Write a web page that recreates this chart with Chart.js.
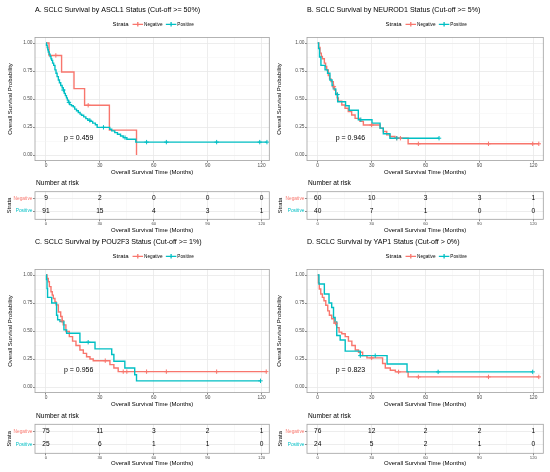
<!DOCTYPE html>
<html>
<head>
<meta charset="utf-8">
<script src="https://cdn.jsdelivr.net/npm/chart.js@4.4.1/dist/chart.umd.min.js"></script>
<style>
  body { margin: 0; background: #fff; width: 550px; height: 472px; position: relative; overflow: hidden; }
  canvas { position: absolute; }
</style>
</head>
<body>
<script>
var RED = '#F8766D';
var CYAN = '#00BFC4';
var FONT = "'Liberation Sans', Arial, Helvetica, sans-serif";
var BORDER = '#a0a0a0';
var GRID_MAJOR = '#e8e8e8';
var GRID_MINOR = '#f3f3f3';

var titles = [
    'A. SCLC Survival by ASCL1 Status (Cut-off >= 50%)',
    'B. SCLC Survival by NEUROD1 Status (Cut-off >= 5%)',
    'C. SCLC Survival by POU2F3 Status (Cut-off >= 1%)',
    'D. SCLC Survival by YAP1 Status (Cut-off > 0%)'
];
var pValues = ['0.459', '0.946', '0.956', '0.823'];
var strata = ['Negative', 'Positive'];
var xGrid = [0, 15, 30, 45, 60, 75, 90, 105, 120];
var yGrid = [0, 0.125, 0.25, 0.375, 0.5, 0.625, 0.75, 0.875, 1];
var riskTimes = [0, 30, 60, 90, 120];

// A. ASCL1
var aNegTime = [0, 1.7, 8.7, 15.6, 21.5, 35.3, 50.4];
var aNegSurv = [1, 0.889, 0.741, 0.593, 0.444, 0.222, 0];
var aNegCens = [5.5, 23.5];
var aPosTime = [0, 0.3, 0.7, 1.0, 1.3, 1.8, 2.3, 2.8, 3.2, 3.7, 4.3, 5.0, 5.6, 6.2, 6.9, 7.5, 8.2, 9.0, 9.6, 10.2, 10.8, 11.4, 11.9, 12.5, 13.2, 14.2, 15.2, 16.0, 17.0, 18.0, 19.0, 19.8, 21.0, 22.2, 23.3, 24.5, 26.0, 27.5, 28.5, 35.5, 36.6, 38.3, 39.8, 41.5, 43.0, 45.0, 50.0, 123];
var aPosSurv = [1, 0.98, 0.96, 0.94, 0.92, 0.90, 0.88, 0.86, 0.845, 0.82, 0.80, 0.76, 0.73, 0.70, 0.67, 0.645, 0.62, 0.60, 0.58, 0.55, 0.53, 0.51, 0.49, 0.47, 0.45, 0.44, 0.43, 0.41, 0.395, 0.38, 0.365, 0.355, 0.34, 0.325, 0.31, 0.30, 0.285, 0.27, 0.247, 0.23, 0.215, 0.20, 0.185, 0.17, 0.155, 0.14, 0.115, 0.115];
var aPosCens = [9.7, 12.8, 24.4, 32, 44, 56, 67, 95, 119, 123];
var aRiskNeg = [9, 2, 0, 0, 0];
var aRiskPos = [91, 15, 4, 3, 1];

// B. NEUROD1
var bNegTime = [0, 0.6, 1.3, 2.0, 2.6, 3.7, 4.4, 5.0, 5.9, 6.6, 7.4, 8.7, 9.3, 10.0, 10.8, 11.5, 13.4, 15.2, 17.0, 18.9, 20.8, 23.5, 25.4, 34.7, 36.5, 38.4, 40.2, 43.0, 50.3, 123];
var bNegSurv = [1, 0.96, 0.91, 0.88, 0.86, 0.82, 0.79, 0.76, 0.71, 0.68, 0.655, 0.61, 0.58, 0.55, 0.51, 0.48, 0.446, 0.417, 0.387, 0.357, 0.327, 0.30, 0.268, 0.24, 0.21, 0.18, 0.165, 0.15, 0.10, 0.10];
var bNegCens = [9, 30, 44, 46, 56, 95, 119.6, 123];
var bPosTime = [0, 0.5, 1.0, 1.8, 4.1, 5.5, 6.8, 8.0, 8.7, 10.0, 11.1, 15.5, 17.5, 22.6, 30.2, 34.7, 36.5, 40.2, 67.5];
var bPosSurv = [1, 0.95, 0.875, 0.80, 0.76, 0.73, 0.67, 0.62, 0.59, 0.54, 0.476, 0.44, 0.40, 0.315, 0.285, 0.24, 0.19, 0.15, 0.15];
var bPosCens = [11, 24, 44, 67.5];
var bRiskNeg = [60, 10, 3, 3, 1];
var bRiskPos = [40, 7, 1, 0, 0];

// C. POU2F3
var cNegTime = [0, 0.6, 1.3, 1.9, 2.8, 3.5, 4.1, 5.0, 5.6, 6.9, 8.2, 9.0, 9.6, 11.1, 13.0, 14.8, 16.7, 18.9, 20.8, 22.6, 24.5, 26.3, 35.6, 37.8, 40.2, 122.6];
var cNegSurv = [1, 0.97, 0.94, 0.896, 0.85, 0.82, 0.79, 0.76, 0.733, 0.67, 0.63, 0.59, 0.555, 0.495, 0.45, 0.41, 0.37, 0.33, 0.30, 0.27, 0.25, 0.235, 0.20, 0.17, 0.137, 0.137];
var cNegCens = [9, 33, 43, 45, 56, 67, 95, 122.6];
var cPosTime = [0, 0.3, 0.6, 0.9, 3.2, 5.9, 6.5, 7.8, 10.0, 11.5, 18.9, 27.3, 36.6, 37.8, 43.9, 49.4, 50.4, 119.4];
var cPosSurv = [1, 0.96, 0.88, 0.80, 0.75, 0.64, 0.60, 0.585, 0.51, 0.48, 0.40, 0.34, 0.29, 0.23, 0.17, 0.11, 0.055, 0.055];
var cPosCens = [23.5, 119.4];
var cRiskNeg = [75, 11, 3, 2, 1];
var cRiskPos = [25, 6, 1, 1, 0];

// D. YAP1
var dNegTime = [0, 0.4, 0.9, 1.7, 2.6, 3.5, 4.5, 5.6, 6.5, 7.8, 9.1, 10.6, 11.9, 13.4, 15.3, 17.1, 19.0, 20.9, 22.7, 25.0, 27.4, 36.1, 37.6, 40.4, 43.2, 50.3, 123];
var dNegSurv = [1, 0.93, 0.875, 0.83, 0.80, 0.77, 0.73, 0.68, 0.64, 0.61, 0.57, 0.53, 0.49, 0.475, 0.45, 0.41, 0.37, 0.33, 0.31, 0.28, 0.26, 0.21, 0.17, 0.15, 0.135, 0.09, 0.09];
var dNegCens = [10, 30, 45, 56, 95, 123];
var dPosTime = [0, 0.7, 3.7, 6.3, 7.8, 8.8, 9.7, 10.6, 12.5, 15.3, 23.7, 38.6, 49.7, 119.6];
var dPosSurv = [1, 0.92, 0.83, 0.75, 0.71, 0.62, 0.58, 0.46, 0.42, 0.32, 0.28, 0.205, 0.135, 0.135];
var dPosCens = [23.7, 32, 67, 119.6];
var dRiskNeg = [76, 12, 2, 2, 1];
var dRiskPos = [24, 5, 2, 1, 0];

var pvalX = 18.2, pvalY = 0.148;

var panels = [
    {col: 0, row: 0, neg: [aNegTime, aNegSurv, aNegCens], pos: [aPosTime, aPosSurv, aPosCens], riskNeg: aRiskNeg, riskPos: aRiskPos},
    {col: 1, row: 0, neg: [bNegTime, bNegSurv, bNegCens], pos: [bPosTime, bPosSurv, bPosCens], riskNeg: bRiskNeg, riskPos: bRiskPos},
    {col: 0, row: 1, neg: [cNegTime, cNegSurv, cNegCens], pos: [cPosTime, cPosSurv, cPosCens], riskNeg: cRiskNeg, riskPos: cRiskPos},
    {col: 1, row: 1, neg: [dNegTime, dNegSurv, dNegCens], pos: [dPosTime, dPosSurv, dPosCens], riskNeg: dRiskNeg, riskPos: dRiskPos}
];

var colGeom = [
    {left: 0, yw: 35, padR: 5.7, xMin: -6.1, xMax: 124.3, kmTitlePad: 6.4, strataPad: 5.8},
    {left: 275, yw: 32, padR: 6.7, xMin: -5.95, xMax: 125.5, kmTitlePad: 0.6, strataPad: 2.3}
];
var rowGeom = [
    {top: 0, riskTop: 15.7, riskBottom: 43.3, riskH: 58, riskTitlePad: 0.4},
    {top: 232, riskTop: 16.3, riskBottom: 45.3, riskH: 62, riskTitlePad: 2.7}
];
var KM_H = 178, KM_TOP = 37.4, KM_BOTTOM = 160.6, RISK_OFFSET = 176;

function makeCanvas(left, top, w, h) {
    var c = document.createElement('canvas');
    c.width = w;
    c.height = h;
    c.style.left = left + 'px';
    c.style.top = top + 'px';
    c.style.width = w + 'px';
    c.style.height = h + 'px';
    document.body.appendChild(c);
    return c;
}

function survAt(times, surv, t) {
    var s = surv[0];
    for (var i = 0; i < times.length; i++) {
        if (times[i] <= t) { s = surv[i]; }
    }
    return s;
}

function curvePoints(times, surv) {
    return times.map(function(t, i) { return {x: t, y: surv[i]}; });
}

function censorPoints(cens, times, surv) {
    return cens.map(function(t) { return {x: t, y: survAt(times, surv, t)}; });
}

function isMajorX(v) { return v % 30 === 0; }
function isMajorY(v) { return Math.abs(v * 4 - Math.round(v * 4)) < 1e-9; }

function xScale(g, tickSize, height, titlePad) {
    return {
        type: 'linear',
        min: g.xMin,
        max: g.xMax,
        afterBuildTicks: function(s) { s.ticks = xGrid.map(function(v) { return {value: v}; }); },
        afterFit: function(s) { s.height = height; },
        border: {display: false},
        grid: {
            color: function(c) { return c.tick && isMajorX(c.tick.value) ? GRID_MAJOR : GRID_MINOR; },
            lineWidth: function(c) { return c.tick && isMajorX(c.tick.value) ? 0.8 : 0.5; },
            tickColor: function(c) { return c.tick && isMajorX(c.tick.value) ? '#555' : 'rgba(0,0,0,0)'; },
            tickLength: 2,
            tickWidth: 0.7
        },
        ticks: {
            autoSkip: false,
            maxRotation: 0,
            padding: 0,
            color: '#4d4d4d',
            font: {family: FONT, size: tickSize},
            callback: function(v) { return isMajorX(v) ? String(v) : ''; }
        },
        title: {
            display: true,
            text: 'Overall Survival Time (Months)',
            color: '#000',
            font: {family: FONT, size: 6},
            padding: {top: 0, bottom: titlePad}
        }
    };
}

var kmDeco = {
    id: 'kmDeco',
    afterDatasetsDraw: function(chart, args, opts) {
        var ctx = chart.ctx, a = chart.chartArea;
        ctx.save();
        ctx.strokeStyle = BORDER;
        ctx.lineWidth = 0.8;
        ctx.strokeRect(a.left, a.top, a.right - a.left, a.bottom - a.top);

        ctx.fillStyle = '#000';
        ctx.textBaseline = 'middle';
        ctx.textAlign = 'center';
        ctx.font = '7px ' + FONT;
        ctx.fillText('p = ' + opts.p, chart.scales.x.getPixelForValue(pvalX), chart.scales.y.getPixelForValue(pvalY));

        ctx.textAlign = 'left';
        ctx.font = '7.1px ' + FONT;
        ctx.fillText(opts.title, a.left, 10);

        // legend: "Strata" + keys
        ctx.font = '6px ' + FONT;
        var wS = ctx.measureText('Strata').width;
        ctx.font = '4.7px ' + FONT;
        var wN = ctx.measureText(strata[0]).width, wP = ctx.measureText(strata[1]).width;
        var keyW = 10.5;
        var total = wS + 4 + keyW + 1 + wN + 3.3 + keyW + 1 + wP;
        var x = (a.left + a.right) / 2 + 1 - total / 2, y = 24.3;
        ctx.font = '6px ' + FONT;
        ctx.fillText('Strata', x, y);
        x += wS + 4;
        [RED, CYAN].forEach(function(col, i) {
            ctx.strokeStyle = col;
            ctx.lineWidth = 1.3;
            ctx.beginPath();
            ctx.moveTo(x, y); ctx.lineTo(x + keyW, y);
            ctx.moveTo(x + keyW / 2, y - 2.2); ctx.lineTo(x + keyW / 2, y + 2.2);
            ctx.stroke();
            x += keyW + 1;
            ctx.font = '4.7px ' + FONT;
            ctx.fillStyle = '#000';
            ctx.fillText(strata[i], x, y);
            x += (i === 0 ? wN : wP) + 3.3;
        });
        ctx.restore();
    }
};

var riskDeco = {
    id: 'riskDeco',
    afterDatasetsDraw: function(chart, args, opts) {
        var ctx = chart.ctx, a = chart.chartArea;
        ctx.save();
        ctx.strokeStyle = BORDER;
        ctx.lineWidth = 0.8;
        ctx.strokeRect(a.left, a.top, a.right - a.left, a.bottom - a.top);

        ctx.fillStyle = '#000';
        ctx.textAlign = 'center';
        ctx.textBaseline = 'middle';
        ctx.font = '6.6px ' + FONT;
        chart.data.datasets.forEach(function(ds, di) {
            chart.getDatasetMeta(di).data.forEach(function(pt, i) {
                ctx.fillText(String(ds.data[i].n), pt.x, pt.y);
            });
        });

        ctx.textAlign = 'left';
        ctx.font = '6.6px ' + FONT;
        ctx.fillText('Number at risk', a.left + 1, a.top - 8.3);
        ctx.restore();
    }
};

function kmChart(p, idx) {
    var g = colGeom[p.col], r = rowGeom[p.row];
    var canvas = makeCanvas(g.left, r.top, 275, KM_H);
    var neg = p.neg, pos = p.pos;
    new Chart(canvas, {
        type: 'scatter',
        data: {
            datasets: [
                {data: censorPoints(pos[2], pos[0], pos[1]), pointStyle: 'cross', pointRadius: 2.2, pointBorderWidth: 1, pointBorderColor: CYAN, pointBackgroundColor: CYAN, showLine: false},
                {data: censorPoints(neg[2], neg[0], neg[1]), pointStyle: 'cross', pointRadius: 2.2, pointBorderWidth: 1, pointBorderColor: RED, pointBackgroundColor: RED, showLine: false},
                {data: curvePoints(pos[0], pos[1]), showLine: true, stepped: true, borderColor: CYAN, borderWidth: 1.4, pointRadius: 0},
                {data: curvePoints(neg[0], neg[1]), showLine: true, stepped: true, borderColor: RED, borderWidth: 1.4, pointRadius: 0}
            ]
        },
        options: {
            responsive: false,
            animation: false,
            events: [],
            layout: {padding: {left: 0, right: g.padR, top: KM_TOP, bottom: 0}},
            plugins: {
                legend: {display: false},
                tooltip: {enabled: false},
                kmDeco: {title: titles[idx], p: pValues[idx]}
            },
            scales: {
                x: xScale(g, 4.8, KM_H - KM_BOTTOM, 2.4),
                y: {
                    type: 'linear',
                    min: -0.05,
                    max: 1.05,
                    afterBuildTicks: function(s) { s.ticks = yGrid.map(function(v) { return {value: v}; }); },
                    afterFit: function(s) { s.width = g.yw; },
                    border: {display: false},
                    grid: {
                        color: function(c) { return c.tick && isMajorY(c.tick.value) ? GRID_MAJOR : GRID_MINOR; },
                        lineWidth: function(c) { return c.tick && isMajorY(c.tick.value) ? 0.8 : 0.5; },
                        tickColor: function(c) { return c.tick && isMajorY(c.tick.value) ? '#555' : 'rgba(0,0,0,0)'; },
                        tickLength: 2,
                        tickWidth: 0.7
                    },
                    ticks: {
                        autoSkip: false,
                        padding: 0.5,
                        color: '#4d4d4d',
                        font: {family: FONT, size: 4.8},
                        callback: function(v) { return isMajorY(v) ? v.toFixed(2) : ''; }
                    },
                    title: {
                        display: true,
                        text: 'Overall Survival Probability',
                        color: '#000',
                        font: {family: FONT, size: 6},
                        padding: {top: g.kmTitlePad, bottom: 0}
                    }
                }
            }
        },
        plugins: [kmDeco]
    });
}

function riskChart(p) {
    var g = colGeom[p.col], r = rowGeom[p.row];
    var canvas = makeCanvas(g.left, r.top + RISK_OFFSET, 275, r.riskH);
    new Chart(canvas, {
        type: 'scatter',
        data: {
            datasets: [
                {data: riskTimes.map(function(t, i) { return {x: t, y: 2, n: p.riskNeg[i]}; }), pointRadius: 0},
                {data: riskTimes.map(function(t, i) { return {x: t, y: 1, n: p.riskPos[i]}; }), pointRadius: 0}
            ]
        },
        options: {
            responsive: false,
            animation: false,
            events: [],
            layout: {padding: {left: 0, right: g.padR, top: r.riskTop, bottom: 0}},
            plugins: {legend: {display: false}, tooltip: {enabled: false}},
            scales: {
                x: xScale(g, 4.3, r.riskH - r.riskBottom, r.riskTitlePad),
                y: {
                    type: 'linear',
                    min: 0.35,
                    max: 2.52,
                    afterBuildTicks: function(s) { s.ticks = [{value: 1}, {value: 2}]; },
                    afterFit: function(s) { s.width = g.yw; },
                    border: {display: false},
                    grid: {color: GRID_MAJOR, lineWidth: 0.8, tickColor: '#555', tickLength: 2, tickWidth: 0.7},
                    ticks: {
                        autoSkip: false,
                        padding: 0.5,
                        font: {family: FONT, size: 4.8},
                        color: function(c) { return c.tick && c.tick.value === 2 ? RED : CYAN; },
                        callback: function(v) { return v === 2 ? strata[0] : strata[1]; }
                    },
                    title: {
                        display: true,
                        text: 'Strata',
                        color: '#000',
                        font: {family: FONT, size: 5.8},
                        padding: {top: g.strataPad, bottom: 0}
                    }
                }
            }
        },
        plugins: [riskDeco]
    });
}

panels.forEach(function(p, i) {
    kmChart(p, i);
    riskChart(p);
});
</script>
</body>
</html>
